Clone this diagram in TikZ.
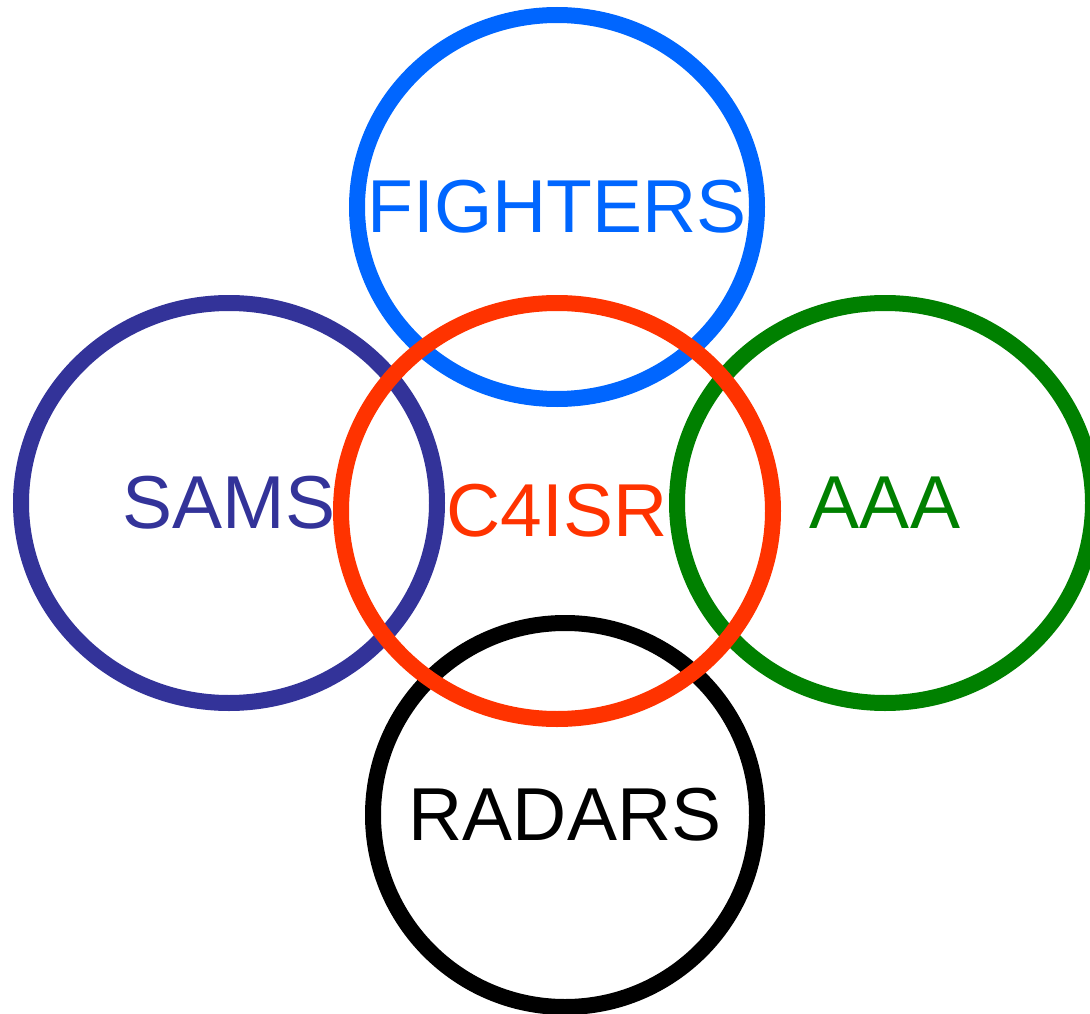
\documentclass[tikz,border=0pt]{standalone}
\usepackage{fontspec}
\setmainfont{Liberation Sans}
\usetikzlibrary{shapes.geometric}
\definecolor{fblue}{HTML}{0066FF}
\definecolor{samblue}{HTML}{333399}
\definecolor{cred}{HTML}{FF3300}
\definecolor{agreen}{HTML}{008000}
\tikzstyle{ring}=[draw,ellipse,line width=16pt,inner sep=0pt]
\tikzstyle{every node}=[font=\fontsize{75}{90}\selectfont]

\begin{document}
\begin{tikzpicture}[x=1pt,y=-1pt]
            \useasboundingbox (0,0) rectangle (1090,1014);
            \node[ring, draw=fblue, minimum width=400pt, minimum height=384pt] (fighters) at (557,207) {};
            \node[ring, draw=samblue, minimum width=416pt, minimum height=400pt] (sams) at (229,503) {};
            \node[ring, draw=agreen, minimum width=416pt, minimum height=400pt] (aaa) at (885,503) {};
            \node[ring, draw=black, minimum width=384pt, minimum height=384pt] (radars) at (565,815) {};
            \node[ring, draw=cred, minimum width=432pt, minimum height=416pt] (c4isr) at (557,511) {};
            \node[text=fblue] (fighterslabel) at (fighters) {FIGHTERS};
            \node[text=samblue] (samslabel) at (sams) {SAMS};
            \node[text=agreen] (aaalabel) at (aaa) {AAA};
            \node[text=black] (radarslabel) at (radars) {RADARS};
            \node[text=cred] (c4isrlabel) at (c4isr) {C4ISR};
        \end{tikzpicture}
\end{document}
